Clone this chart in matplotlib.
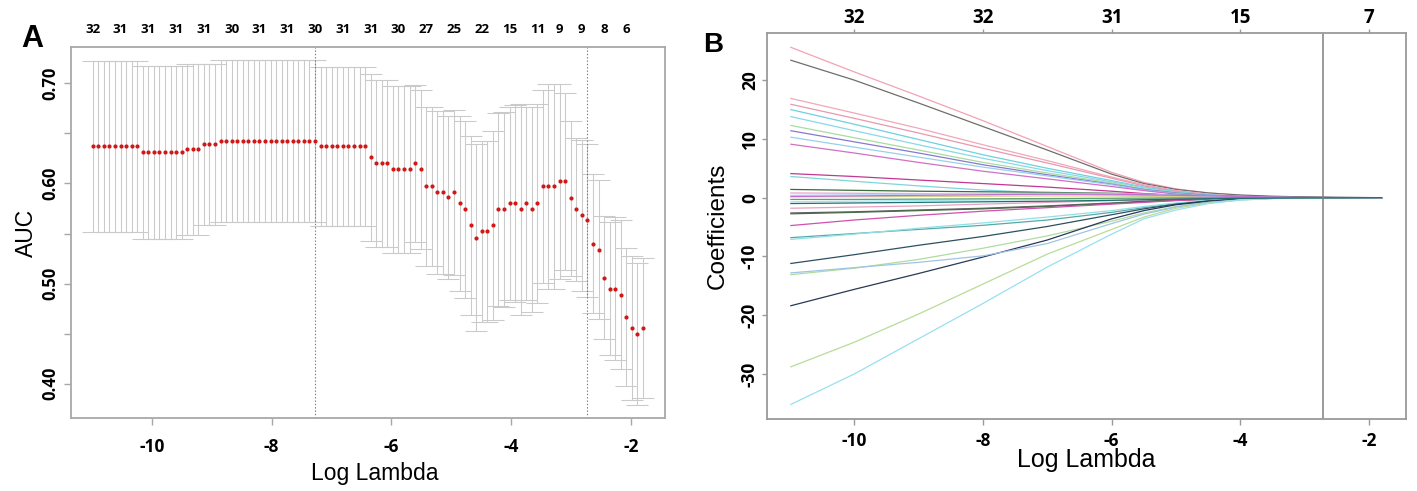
import numpy as np
import matplotlib
matplotlib.use("Agg")
import matplotlib.pyplot as plt

# ------------------------------------------------------------------
# Panel A: cross-validated AUC (glmnet) -- 100 lambda values
# ------------------------------------------------------------------
log_lambda = np.linspace(-10.988, -1.798, 100)   # glmnet lambda grid (log scale)

auc_mean = [
    0.637, 0.637, 0.637, 0.637, 0.637, 0.637, 0.637, 0.637, 0.637, 0.631,
    0.631, 0.631, 0.631, 0.631, 0.631, 0.631, 0.631, 0.634, 0.634, 0.634,
    0.639, 0.639, 0.639, 0.642, 0.642, 0.642, 0.642, 0.642, 0.642, 0.642,
    0.642, 0.642, 0.642, 0.642, 0.642, 0.642, 0.642, 0.642, 0.642, 0.642,
    0.642, 0.637, 0.637, 0.637, 0.637, 0.637, 0.637, 0.637, 0.637, 0.637,
    0.626, 0.620, 0.620, 0.620, 0.614, 0.614, 0.614, 0.614, 0.620, 0.614,
    0.597, 0.597, 0.591, 0.591, 0.586, 0.591, 0.580, 0.574, 0.558, 0.546,
    0.552, 0.552, 0.558, 0.574, 0.574, 0.580, 0.580, 0.574, 0.580, 0.574,
    0.580, 0.597, 0.597, 0.597, 0.602, 0.602, 0.585, 0.574, 0.568, 0.563,
    0.540, 0.534, 0.506, 0.495, 0.495, 0.489, 0.467, 0.456, 0.450, 0.456,
]

auc_se = [
    0.0857, 0.0857, 0.0857, 0.0857, 0.0857, 0.0857, 0.0857, 0.0857, 0.0857, 0.0860,
    0.0860, 0.0860, 0.0860, 0.0860, 0.0860, 0.0860, 0.0860, 0.0856, 0.0856, 0.0856,
    0.0805, 0.0805, 0.0805, 0.0810, 0.0810, 0.0810, 0.0810, 0.0810, 0.0810, 0.0810,
    0.0810, 0.0810, 0.0810, 0.0810, 0.0810, 0.0810, 0.0810, 0.0810, 0.0810, 0.0810,
    0.0810, 0.0798, 0.0798, 0.0798, 0.0798, 0.0798, 0.0798, 0.0798, 0.0798, 0.0798,
    0.0830, 0.0833, 0.0833, 0.0833, 0.0837, 0.0837, 0.0837, 0.0837, 0.0780, 0.0793,
    0.0790, 0.0790, 0.0810, 0.0810, 0.0810, 0.0823, 0.0877, 0.0884, 0.0896, 0.0930,
    0.0900, 0.0907, 0.0940, 0.0967, 0.0970, 0.0960, 0.0980, 0.1050, 0.0960, 0.1024,
    0.0997, 0.0960, 0.1026, 0.1026, 0.0970, 0.0880, 0.0774, 0.0717, 0.0750, 0.0760,
    0.0697, 0.0690, 0.0610, 0.0667, 0.0714, 0.0743, 0.0690, 0.0720, 0.0710, 0.0700,
]

# number of non-zero coefficients shown on the top axis of panel A
top_label_index = [0, 5, 10, 15, 20, 25, 30, 35, 40, 45, 50, 55, 60, 65, 70, 75, 80, 84, 88, 92, 96]
top_label_nzero = [32, 31, 31, 31, 31, 30, 31, 31, 30, 31, 31, 30, 27, 25, 22, 15, 11, 9, 9, 8, 6]

# ------------------------------------------------------------------
# Panel B: coefficient paths, read at these log-lambda positions
# ------------------------------------------------------------------
path_log_lambda = [-10.99, -10, -9, -8, -7, -6, -5.5, -5, -4.5, -4, -3.5, -3, -2.5, -1.8]

coef_01 = [25.6, 21.4, 17.3, 13.1, 8.7, 4.3, 2.6, 1.5, 0.8, 0.4, 0.15, 0.05, 0, 0]
coef_02 = [23.4, 20.0, 16.1, 12.1, 8.1, 4.0, 2.4, 1.4, 0.8, 0.45, 0.25, 0.12, 0.05, 0]
coef_03 = [16.9, 14.4, 11.8, 9.0, 6.3, 3.5, 2.2, 1.2, 0.6, 0.25, 0.08, 0, 0, 0]
coef_04 = [15.9, 13.5, 11.0, 8.4, 5.9, 3.3, 2.0, 1.1, 0.5, 0.2, 0.05, 0, 0, 0]
coef_05 = [15.0, 12.5, 9.9, 7.3, 5.0, 2.9, 1.8, 1.0, 0.5, 0.2, 0.08, 0.02, 0, 0]
coef_06 = [13.8, 11.4, 9.0, 6.7, 4.6, 2.7, 1.7, 0.9, 0.45, 0.15, 0.05, 0, 0, 0]
coef_07 = [12.3, 10.2, 8.1, 6.0, 4.2, 2.5, 1.5, 0.8, 0.35, 0.1, 0, 0, 0, 0]
coef_08 = [11.4, 9.5, 7.6, 5.6, 3.9, 2.3, 1.4, 0.8, 0.4, 0.15, 0.05, 0, 0, 0]
coef_09 = [10.3, 8.6, 6.9, 5.2, 3.7, 2.2, 1.3, 0.7, 0.3, 0.1, 0, 0, 0, 0]
coef_10 = [9.1, 7.6, 6.0, 4.5, 3.2, 1.9, 1.2, 0.6, 0.25, 0.05, 0, 0, 0, 0]
coef_11 = [4.1, 3.6, 3.0, 2.4, 1.8, 1.1, 0.7, 0.4, 0.15, 0, 0, 0, 0, 0]
coef_12 = [3.6, 2.8, 2.0, 1.3, 0.8, 0.4, 0.2, 0.1, 0, 0, 0, 0, 0, 0]
coef_13 = [1.4, 1.25, 1.1, 1.0, 0.9, 0.75, 0.6, 0.45, 0.3, 0.2, 0.12, 0.07, 0.03, 0]
coef_14 = [0.8, 0.75, 0.7, 0.65, 0.6, 0.5, 0.4, 0.3, 0.15, 0.05, 0, 0, 0, 0]
coef_15 = [0.15, 0.15, 0.2, 0.25, 0.3, 0.3, 0.25, 0.2, 0.1, 0.05, 0.02, 0, 0, 0]
coef_16 = [-0.7, -0.6, -0.5, -0.4, -0.3, -0.2, -0.15, -0.1, -0.05, 0, 0, 0, 0, 0]
coef_17 = [-1.8, -1.6, -1.4, -1.1, -0.8, -0.5, -0.35, -0.2, -0.1, 0, 0, 0, 0, 0]
coef_18 = [-2.6, -2.4, -2.1, -1.8, -1.4, -0.9, -0.6, -0.35, -0.2, -0.1, -0.05, -0.02, 0, 0]
coef_19 = [-2.75, -2.5, -2.2, -1.9, -1.5, -1.0, -0.7, -0.45, -0.3, -0.2, -0.12, -0.08, -0.04, 0]
coef_20 = [-4.75, -3.8, -3.0, -2.3, -1.7, -1.1, -0.8, -0.5, -0.25, -0.1, 0, 0, 0, 0]
coef_21 = [-6.8, -6.1, -5.4, -4.7, -3.8, -2.5, -1.7, -1.0, -0.5, -0.2, -0.05, 0, 0, 0]
coef_22 = [-7.1, -6.2, -5.2, -4.3, -3.3, -2.2, -1.5, -0.9, -0.45, -0.15, -0.05, 0, 0, 0]
coef_23 = [-11.2, -9.7, -8.1, -6.6, -4.9, -2.9, -1.9, -1.1, -0.55, -0.25, -0.1, -0.05, -0.02, 0]
coef_24 = [-13.1, -12.0, -10.5, -8.6, -6.5, -4.0, -2.6, -1.5, -0.7, -0.3, -0.1, 0, 0, 0]
coef_25 = [-18.4, -15.6, -12.9, -10.1, -7.2, -3.6, -2.2, -1.2, -0.6, -0.25, -0.1, -0.03, 0, 0]
coef_26 = [-12.8, -11.9, -11.0, -9.9, -7.8, -4.4, -2.8, -1.6, -0.8, -0.35, -0.12, -0.03, 0, 0]
coef_27 = [-28.8, -24.6, -19.8, -14.7, -9.6, -5.4, -3.3, -1.8, -0.9, -0.4, -0.15, -0.05, 0, 0]
coef_28 = [-35.2, -30.0, -24.0, -18.0, -11.8, -6.2, -3.6, -2.1, -1.0, -0.4, -0.15, -0.05, 0, 0]
coef_29 = [0.4, 0.5, 0.6, 0.7, 0.75, 0.7, 0.6, 0.45, 0.3, 0.15, 0.05, 0, 0, 0]
coef_30 = [-0.3, -0.3, -0.25, -0.2, -0.15, -0.1, -0.08, -0.05, -0.03, -0.02, -0.01, 0, 0, 0]
coef_31 = [0.2, 0.3, 0.4, 0.5, 0.6, 0.6, 0.5, 0.4, 0.3, 0.2, 0.12, 0.06, 0.02, 0]
coef_32 = [-1.0, -0.9, -0.8, -0.7, -0.6, -0.45, -0.35, -0.25, -0.18, -0.12, -0.08, -0.05, -0.03, 0]

coef_colors = [
    "#f2a2b4", "#6e6e6e", "#f0a8b8", "#e898b0", "#70d0e0", "#88d8e8", "#a8dca0", "#8878d0",
    "#98d0ec", "#d070c8", "#c03890", "#80d4dc", "#3c6c3c", "#f0a0c8", "#d8d088", "#a0e8f0",
    "#e8a0c0", "#606060", "#4a6a4a", "#d050b0", "#58a8a8", "#90e0e8", "#2c5060", "#b0dca0",
    "#283858", "#a0c4e4", "#b8dc98", "#98e0f0", "#b8d8ff", "#60a070", "#c070d0", "#207070",
]

top_ticks_B = [-10, -8, -6, -4, -2]
top_nzero_B = [32, 32, 31, 15, 7]

# ------------------------------------------------------------------
TICK_FONT = "Open Sans"
LABEL_FONT = "Liberation Sans"

auc = np.array(auc_mean)
se = np.array(auc_se)
upper = auc + se
lower = auc - se

fig = plt.figure(figsize=(14.17, 4.91), dpi=100)
fig.patch.set_facecolor("white")

W, H = 1417.0, 491.0
def rect(l, t, r, b):
    return [l / W, 1 - b / H, (r - l) / W, (b - t) / H]

axA = fig.add_axes(rect(70.7, 46.7, 665.0, 418.3))
axB = fig.add_axes(rect(766.7, 32.8, 1406.0, 419.0))

xr = log_lambda.max() - log_lambda.min()
xlim = (log_lambda.min() - 0.04 * xr, log_lambda.max() + 0.04 * xr)

# ---------------- Panel A ----------------
ebar_col = "#cacaca"
barw = 0.02 * xr
axA.vlines(log_lambda, lower, upper, color=ebar_col, lw=0.75, zorder=1)
axA.hlines(upper, log_lambda - barw, log_lambda + barw, color=ebar_col, lw=0.75, zorder=1)
axA.hlines(lower, log_lambda - barw, log_lambda + barw, color=ebar_col, lw=0.75, zorder=1)
axA.plot(log_lambda, auc, "o", color="#d01818", ms=3.0, mec="none", zorder=3)

i_min = int(np.where(auc == auc.max())[0].max())
i_1se = int(np.where(auc >= auc[i_min] - se[i_min])[0].max())
for i in (i_min, i_1se):
    axA.axvline(log_lambda[i], color="#7a7a7a", lw=0.8, ls=(0, (1.2, 1.8)), zorder=2)

yr = upper.max() - lower.min()
axA.set_xlim(*xlim)
axA.set_ylim(lower.min() - 0.04 * yr, upper.max() + 0.04 * yr)

axA.set_xticks([-10, -8, -6, -4, -2])
axA.set_xticklabels(["-10", "-8", "-6", "-4", "-2"])
yt = [0.40, 0.45, 0.50, 0.55, 0.60, 0.65, 0.70]
axA.set_yticks(yt)
axA.set_yticklabels(["0.40", "", "0.50", "", "0.60", "", "0.70"])

spine_col_A = "#a8a8a8"
for s in axA.spines.values():
    s.set_color(spine_col_A)
    s.set_linewidth(1.3)
axA.tick_params(axis="x", direction="out", length=5, width=1.0, color=spine_col_A,
                pad=9.5, labelsize=12.5)
axA.tick_params(axis="y", direction="out", length=5, width=1.0, color=spine_col_A,
                pad=3.4, labelsize=12)
for lab in axA.get_xticklabels() + axA.get_yticklabels():
    lab.set_fontfamily(TICK_FONT)
    lab.set_fontweight("bold")
for lab in axA.get_yticklabels():
    lab.set_rotation(90)
    lab.set_va("center")

secA = axA.secondary_xaxis("top")
secA.set_xticks(log_lambda[top_label_index])
secA.set_xticklabels([str(v) for v in top_label_nzero])
secA.tick_params(axis="x", length=0, pad=7.5, labelsize=9.5)
secA.spines["top"].set_visible(False)
for lab in secA.get_xticklabels():
    lab.set_fontfamily(TICK_FONT)
    lab.set_fontweight("bold")

axA.set_xlabel("Log Lambda", fontsize=16.5, fontfamily=LABEL_FONT, va="baseline")
axA.xaxis.set_label_coords(0.512, -0.165)
axA.set_ylabel("AUC", fontsize=16.5, fontfamily=LABEL_FONT, va="center")
axA.yaxis.set_label_coords(-0.0745, 0.5)

# ---------------- Panel B ----------------
coef_paths = [coef_01, coef_02, coef_03, coef_04, coef_05, coef_06, coef_07, coef_08,
              coef_09, coef_10, coef_11, coef_12, coef_13, coef_14, coef_15, coef_16,
              coef_17, coef_18, coef_19, coef_20, coef_21, coef_22, coef_23, coef_24,
              coef_25, coef_26, coef_27, coef_28, coef_29, coef_30, coef_31, coef_32]
for vals, col in zip(coef_paths, coef_colors):
    axB.plot(path_log_lambda, vals, color=col, lw=0.9, solid_capstyle="butt")

axB.axvline(log_lambda[i_1se], color="#808080", lw=1.1)

allc = np.array(coef_paths)
cr = allc.max() - allc.min()
axB.set_xlim(*xlim)
axB.set_ylim(allc.min() - 0.04 * cr, allc.max() + 0.04 * cr)

axB.set_xticks([-10, -8, -6, -4, -2])
axB.set_xticklabels(["-10", "-8", "-6", "-4", "-2"])
axB.set_yticks([-30, -20, -10, 0, 10, 20])
axB.set_yticklabels(["-30", "-20", "-10", "0", "10", "20"])

spine_col_B = "#9a9a9a"
for s in axB.spines.values():
    s.set_color(spine_col_B)
    s.set_linewidth(1.3)
axB.tick_params(axis="x", direction="out", length=4.3, width=1.0, color=spine_col_B,
                pad=5.0, labelsize=12.5)
axB.tick_params(axis="y", direction="out", length=3.6, width=1.0, color=spine_col_B,
                pad=2.0, labelsize=12.5)
for lab in axB.get_xticklabels() + axB.get_yticklabels():
    lab.set_fontfamily(TICK_FONT)
    lab.set_fontweight("bold")
for lab in axB.get_yticklabels():
    lab.set_rotation(90)
    lab.set_va("center")

secB = axB.secondary_xaxis("top")
secB.set_xticks(top_ticks_B)
secB.set_xticklabels([str(v) for v in top_nzero_B])
secB.tick_params(axis="x", direction="out", length=2.9, width=1.0, color=spine_col_B,
                 pad=0.8, labelsize=13.5)
secB.spines["top"].set_visible(False)
for lab in secB.get_xticklabels():
    lab.set_fontfamily(TICK_FONT)
    lab.set_fontweight("bold")

axB.set_xlabel("Log Lambda", fontsize=18, fontfamily=LABEL_FONT, va="baseline")
axB.xaxis.set_label_coords(0.5, -0.1235)
axB.set_ylabel("Coefficients", fontsize=17.5, fontfamily=LABEL_FONT, va="center")
axB.yaxis.set_label_coords(-0.0771, 0.5)

# panel letters
fig.text(21.7 / W, 1 - 46.7 / H, "A", fontsize=22, fontweight="bold",
         fontfamily=LABEL_FONT, ha="left", va="baseline")
fig.text(703.0 / W, 1 - 51.7 / H, "B", fontsize=20, fontweight="bold",
         fontfamily=LABEL_FONT, ha="left", va="baseline")

fig.savefig("out.png", dpi=100, facecolor="white")
